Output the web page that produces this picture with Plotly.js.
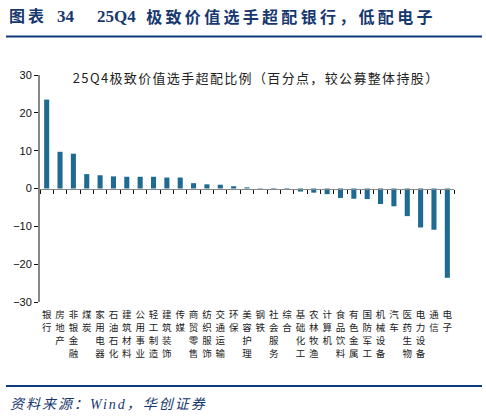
<!DOCTYPE html>
<html>
<head>
<meta charset="utf-8">
<script src="https://cdn.plot.ly/plotly-3.0.1.min.js"></script>
<style>
html,body{margin:0;padding:0;background:#fff;}
#chart{width:486px;height:418px;}
g.annotation[data-index="0"] text{letter-spacing:1.35px;}
g.annotation[data-index="1"] text{letter-spacing:3px;}
g.annotation[data-index="4"] text{letter-spacing:3.3px;}
g.annotation[data-index="5"] text{letter-spacing:2px;}
</style>
</head>
<body>
<div id="chart"></div>
<script>
const categories = ["银行","房地产","非银金融","煤炭","家用电器","石油石化","建筑材料","公用事业","轻工制造","建筑装饰","传媒","商贸零售","纺织服饰","交通运输","环保","美容护理","钢铁","社会服务","综合","基础化工","农林牧渔","计算机","食品饮料","有色金属","国防军工","机械设备","汽车","医药生物","电力设备","通信","电子"];
const overweight = [23.5,9.7,9.2,3.8,3.5,3.2,3.1,3.1,3.1,2.9,2.9,1.4,1.1,1.0,0.6,0.3,-0.1,-0.2,-0.3,-0.8,-1.1,-1.5,-2.5,-2.7,-2.8,-4.1,-4.7,-7.3,-10.3,-10.9,-23.6];
const yTicks = [-30,-20,-10,0,10,20,30];

const idx = categories.map((c,i)=>i);
const boundaries = [];
for (let i = 0; i <= categories.length; i++) boundaries.push(i - 0.5);
const maxLen = Math.max(...categories.map(c => c.length));

const cjk = '"Noto Sans CJK SC", "Noto Sans", sans-serif';
const serif = '"Liberation Serif", "Noto Sans CJK SC", serif';

// page geometry (pixels)
const W = 486, H = 418, mL = 40, mR = 32, mT = 75, mB = 50;
const plotBottom = 302;               // bottom of the bar area
const areaW = W - mL - mR, areaH = H - mT - mB;
function px(x){ return (x - mL) / areaW; }
function py(y){ return (H - mB - y) / areaH; }
const yDomainBottom = py(plotBottom);

const traces = [{
  type: 'bar',
  x: idx,
  y: overweight,
  marker: {color: '#1e6a92', line: {width: 0}},
  hoverinfo: 'skip'
}];

const layout = {
  width: W, height: H,
  margin: {l: mL, r: mR, t: mT, b: mB},
  paper_bgcolor: '#ffffff', plot_bgcolor: '#ffffff',
  showlegend: false,
  bargap: 0.62,
  xaxis: {
    type: 'linear', anchor: 'y',
    range: [-0.5, categories.length - 0.5],
    showticklabels: false,
    showline: false, ticks: '', showgrid: false, zeroline: false,
    fixedrange: true
  },
  xaxis2: {
    type: 'linear', overlaying: 'x', anchor: 'free',
    position: yDomainBottom + (1 - yDomainBottom) * 0.5, side: 'bottom',
    range: [-0.5, categories.length - 0.5],
    tickmode: 'array', tickvals: boundaries,
    showticklabels: false, ticks: 'outside', ticklen: 4, tickwidth: 1, tickcolor: '#111',
    showline: true, linecolor: '#888', linewidth: 1.5,
    showgrid: false, zeroline: false
  },
  yaxis: {
    domain: [yDomainBottom, 1],
    range: [-30, 30],
    tickmode: 'array', tickvals: yTicks,
    showline: true, linecolor: '#888', linewidth: 2,
    ticks: 'outside', ticklen: 4, tickwidth: 1, tickcolor: '#111',
    showgrid: false, zeroline: false,
    tickfont: {family: 'Liberation Sans, Arial, sans-serif', size: 11, color: '#111'},
    fixedrange: true
  },
  annotations: [
    {xref: 'paper', yref: 'paper', x: px(70 + 28*1.35/2), y: py(77), xanchor: 'left', yanchor: 'middle',
     text: '25Q4极致价值选手超配比例（百分点，较公募整体持股）', showarrow: false,
     font: {family: cjk, size: 13, color: '#222'}},
    {xref: 'paper', yref: 'paper', x: px(7 + 3), y: py(17), xanchor: 'left', yanchor: 'middle',
     text: '<b>图表</b>', showarrow: false,
     font: {family: serif, size: 16, color: '#17386f'}},
    {xref: 'paper', yref: 'paper', x: px(55), y: py(17), xanchor: 'left', yanchor: 'middle',
     text: '<b>34</b>', showarrow: false,
     font: {family: serif, size: 17, color: '#17386f'}},
    {xref: 'paper', yref: 'paper', x: px(95), y: py(17), xanchor: 'left', yanchor: 'middle',
     text: '<b>25Q4</b>', showarrow: false,
     font: {family: serif, size: 17, color: '#17386f'}},
    {xref: 'paper', yref: 'paper', x: px(144 + 15*3.3/2), y: py(17), xanchor: 'left', yanchor: 'middle',
     text: '<b>极致价值选手超配银行，低配电子</b>', showarrow: false,
     font: {family: serif, size: 16, color: '#17386f'}},
    {xref: 'paper', yref: 'paper', x: px(8 + 14*2/2), y: py(404), xanchor: 'left', yanchor: 'middle',
     text: '<i>资料来源：Wind，华创证券</i>', showarrow: false,
     font: {family: serif, size: 14, color: '#17386f'}}
  ],
  shapes: [
    {type: 'line', xref: 'paper', yref: 'paper', x0: px(6), x1: px(482), y0: py(36.5), y1: py(36.5),
     line: {color: '#0f3a7a', width: 2}},
    {type: 'line', xref: 'paper', yref: 'paper', x0: px(6), x1: px(482), y0: py(386), y1: py(386),
     line: {color: '#0f3a7a', width: 2}}
  ]
};

// invisible trace for the zero-line axis
traces.push({type: 'scatter', x: [-0.5], y: [0], xaxis: 'x2', yaxis: 'y',
  mode: 'markers', marker: {opacity: 0}, showlegend: false, hoverinfo: 'skip'});

// one axis per character row of the vertical category labels
const rowGap = 13.2, firstRowCenter = 315, labelOffset = 8;
for (let r = 0; r < maxLen; r++) {
  const name = 'xaxis' + (3 + r);
  layout[name] = {
    type: 'linear', overlaying: 'x', anchor: 'free', side: 'bottom',
    position: py(firstRowCenter + r * rowGap - labelOffset),
    range: [-0.5, categories.length - 0.5],
    tickmode: 'array', tickvals: idx,
    ticktext: categories.map(c => c[r] || ''),
    ticks: '', showline: false, showgrid: false, zeroline: false,
    tickfont: {family: cjk, size: 9.5, color: '#222'}
  };
  traces.push({type: 'scatter', x: [-0.5], y: [0], xaxis: 'x' + (3 + r), yaxis: 'y',
    mode: 'markers', marker: {opacity: 0}, showlegend: false, hoverinfo: 'skip'});
}

Plotly.newPlot('chart', traces, layout, {displayModeBar: false, staticPlot: true});
</script>
</body>
</html>
